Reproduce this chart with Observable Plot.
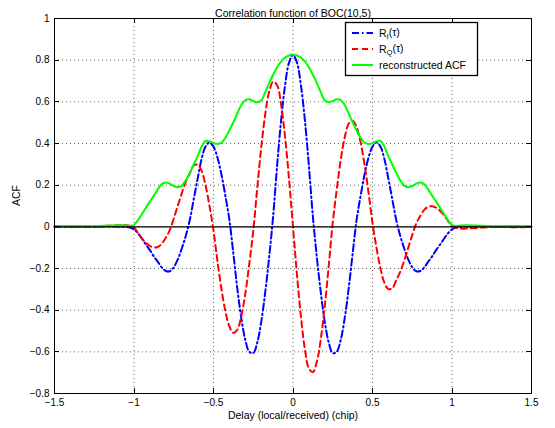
<!DOCTYPE html>
<html><head><meta charset="utf-8">
<script src="https://cdn.jsdelivr.net/npm/d3@7"></script>
<script src="https://cdn.jsdelivr.net/npm/@observablehq/plot@0.6"></script>
<style>
html,body{margin:0;padding:0;background:#fff;}
#chart{width:555px;height:428px;}
</style></head><body><div id="chart"></div>
<script>
const tau = [-1.5,-1.4,-1.3,-1.2,-1.1,-1.075,-1.05,-1.025,-1,-0.975,-0.95,-0.925,-0.9,-0.875,-0.85,-0.825,-0.8,-0.775,-0.75,-0.725,-0.7,-0.675,-0.65,-0.625,-0.6,-0.575,-0.55,-0.525,-0.5,-0.475,-0.45,-0.425,-0.4,-0.375,-0.35,-0.325,-0.3,-0.275,-0.25,-0.225,-0.2,-0.175,-0.15,-0.125,-0.1,-0.075,-0.05,-0.025,
0,0.025,0.05,0.075,0.1,0.125,0.15,0.175,0.2,0.225,0.25,0.275,0.3,0.325,0.35,0.375,0.4,0.425,0.45,0.475,0.5,0.525,0.55,0.575,0.6,0.625,0.65,0.675,0.7,0.725,0.75,0.775,0.8,0.825,0.85,0.875,0.9,0.925,0.95,0.975,1,1.025,1.05,1.075,1.1,1.2,1.3,1.4,1.5];

const rI = [0,0.001,0,0.002,0.001,0.001,0,-0.003,-0.012,-0.031,-0.057,-0.085,-0.112,-0.142,-0.168,-0.195,-0.212,-0.213,-0.194,-0.157,-0.105,-0.045,0.03,0.13,0.23,0.325,0.385,0.405,0.385,0.332,0.251,0.148,0.033,-0.129,-0.297,-0.439,-0.543,-0.600,-0.606,-0.556,-0.457,-0.316,-0.146,0.050,0.293,0.509,0.679,0.788,
0.825,0.788,0.679,0.509,0.293,0.050,-0.146,-0.316,-0.457,-0.556,-0.606,-0.600,-0.543,-0.439,-0.297,-0.129,0.033,0.148,0.251,0.332,0.385,0.405,0.385,0.325,0.23,0.13,0.03,-0.045,-0.105,-0.157,-0.194,-0.213,-0.212,-0.195,-0.168,-0.142,-0.112,-0.085,-0.057,-0.031,-0.012,-0.003,0,0.001,0.001,0.002,0,0.001,0];

const rQ = [0,0.002,0,0.003,0.008,0.009,0.008,0.005,-0.003,-0.029,-0.055,-0.077,-0.092,-0.099,-0.097,-0.081,-0.052,-0.016,0.040,0.100,0.160,0.215,0.255,0.294,0.299,0.269,0.199,0.100,-0.018,-0.165,-0.299,-0.406,-0.478,-0.509,-0.494,-0.428,-0.320,-0.178,-0.020,0.185,0.379,0.538,0.648,0.697,0.680,0.588,0.432,0.229,
0,-0.229,-0.432,-0.588,-0.680,-0.697,-0.648,-0.538,-0.379,-0.185,0.020,0.178,0.320,0.428,0.494,0.509,0.478,0.406,0.299,0.165,0.018,-0.100,-0.199,-0.269,-0.299,-0.294,-0.255,-0.215,-0.160,-0.100,-0.040,0.016,0.052,0.081,0.097,0.099,0.092,0.077,0.055,0.029,0.003,-0.005,-0.008,-0.009,-0.008,-0.003,0,-0.002,0];

const acf = [0.003,0.004,0.003,0.005,0.008,0.008,0.006,0.004,0.010,0.032,0.062,0.092,0.122,0.150,0.180,0.205,0.213,0.207,0.196,0.190,0.198,0.222,0.258,0.298,0.338,0.385,0.412,0.411,0.402,0.398,0.404,0.428,0.463,0.502,0.545,0.585,0.608,0.612,0.604,0.598,0.606,0.645,0.690,0.730,0.766,0.793,0.812,0.823,
0.827,0.823,0.812,0.793,0.766,0.730,0.690,0.645,0.606,0.598,0.604,0.612,0.608,0.585,0.545,0.502,0.463,0.428,0.404,0.398,0.402,0.411,0.412,0.385,0.338,0.298,0.258,0.222,0.198,0.190,0.196,0.207,0.213,0.205,0.180,0.150,0.122,0.092,0.062,0.032,0.010,0.004,0.006,0.008,0.008,0.005,0.003,0.004,0.003];

const xTicks = [-1.5,-1,-0.5,0,0.5,1,1.5];
const yTicks = [-0.8,-0.6,-0.4,-0.2,0,0.2,0.4,0.6,0.8,1];
const title = "Correlation function of BOC(10,5)";
const xLabel = "Delay (local/received) (chip)";
const yLabel = "ACF";
const legendItems = [
  {base:"R", sub:"I", tail:"(\u03c4)", color:"#0000ff", dash:"7,3,1.5,3"},
  {base:"R", sub:"Q", tail:"(\u03c4)", color:"#ff0000", dash:"6,4"},
  {base:"reconstructed ACF", sub:"", tail:"", color:"#00ff00", dash:null}
];

const rows = tau.map((t,i)=>({t, rI:rI[i], rQ:rQ[i], acf:acf[i]}));
const fmt = d => (d<0?"\u2212":"") + Math.abs(d);
const font = "'Liberation Sans', Arial, Helvetica, sans-serif";

const chart = Plot.plot({
  width:555, height:428, marginLeft:54, marginRight:24, marginTop:18, marginBottom:35,
  style:{fontFamily:font, fontSize:"10px", background:"#fff", color:"#000", overflow:"visible"},
  x:{domain:[-1.5,1.5]}, y:{domain:[-0.8,1]},
  marks:[
    Plot.gridX(xTicks, {stroke:"#000", strokeOpacity:0.6, strokeDasharray:"1,3"}),
    Plot.gridY(yTicks, {stroke:"#000", strokeOpacity:0.6, strokeDasharray:"1,3"}),
    Plot.line(rows, {x:"t", y:"rI", stroke:legendItems[0].color, strokeWidth:2, strokeDasharray:legendItems[0].dash, curve:"catmull-rom"}),
    Plot.line(rows, {x:"t", y:"rQ", stroke:legendItems[1].color, strokeWidth:2, strokeDasharray:legendItems[1].dash, curve:"catmull-rom"}),
    Plot.line(rows, {x:"t", y:"acf", stroke:legendItems[2].color, strokeWidth:2, curve:"catmull-rom"}),
    Plot.ruleY([0], {stroke:"#000", strokeWidth:1.2}),
    Plot.frame({stroke:"#000"}),
    Plot.axisX(xTicks, {tickSize:0, tickPadding:5, tickFormat:fmt, label:null, fontSize:10}),
    Plot.axisY(yTicks, {tickSize:0, tickPadding:5, tickFormat:fmt, label:null, fontSize:10}),
    Plot.text([title], {text:d=>d, frameAnchor:"top", dy:-9, fontSize:10.5}),
    Plot.text([xLabel], {text:d=>d, frameAnchor:"bottom", dy:25, fontSize:10.5}),
    Plot.text([yLabel], {text:d=>d, frameAnchor:"left", dx:-38, rotate:-90, fontSize:10.5})
  ]
});
document.getElementById("chart").appendChild(chart);

// inward ticks (MATLAB style)
const sx = chart.scale("x"), sy = chart.scale("y");
const svg = d3.select(chart);
const tk = svg.append("g").attr("stroke","#000").attr("stroke-width",1);
const x0 = sx.apply(-1.5), x1 = sx.apply(1.5), y0 = sy.apply(-0.8), y1 = sy.apply(1);
xTicks.forEach(v=>{
  const x = Math.round(sx.apply(v))+0.5;
  tk.append("line").attr("x1",x).attr("x2",x).attr("y1",y0).attr("y2",y0-5);
  tk.append("line").attr("x1",x).attr("x2",x).attr("y1",y1).attr("y2",y1+5);
});
yTicks.forEach(v=>{
  const y = Math.round(sy.apply(v))+0.5;
  tk.append("line").attr("x1",x0).attr("x2",x0+5).attr("y1",y).attr("y2",y);
  tk.append("line").attr("x1",x1).attr("x2",x1-5).attr("y1",y).attr("y2",y);
});

// legend
const lg = svg.append("g").attr("font-family", font).attr("font-size", 10.5).attr("text-anchor","start");
lg.append("rect").attr("x",345.5).attr("y",22.5).attr("width",132).attr("height",53)
  .style("fill","#ffffff").style("stroke","#000000").style("stroke-width","1.3px");
legendItems.forEach((it,i)=>{
  const y = 33 + i*16;
  const ln = lg.append("line").attr("x1",352).attr("x2",373).attr("y1",y).attr("y2",y)
    .style("stroke",it.color).style("stroke-width","2px");
  if (it.dash) ln.style("stroke-dasharray", it.dash);
  const t = lg.append("text").attr("x",379).attr("y",y).attr("dy","0.35em")
    .style("fill","#000").attr("text-anchor","start");
  t.append("tspan").text(it.base);
  if (it.sub) {
    t.append("tspan").attr("font-size",7.5).attr("dy","0.3em").text(it.sub);
    t.append("tspan").attr("dy","-0.3em").text(it.tail);
  }
});
</script></body></html>
